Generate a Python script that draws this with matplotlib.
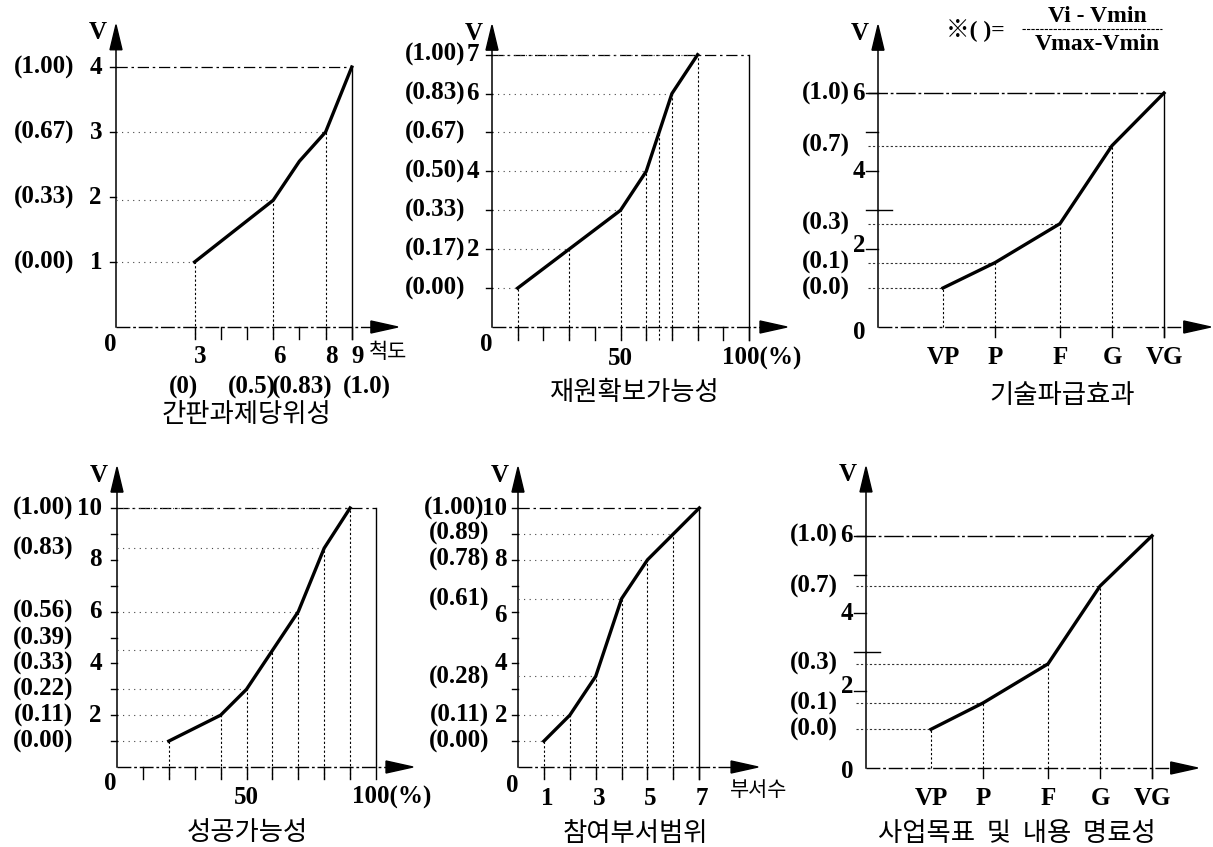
import matplotlib
matplotlib.use("Agg")
import matplotlib.pyplot as plt
from matplotlib.lines import Line2D

W, H = 1213, 847

# ---------------- data ----------------
# 간판과제당위성 (척도 3..9)
p1_x = [3, 6, 7, 8, 9]
p1_v = [1, 1.95, 2.55, 3, 4]
p1_vticks = [1, 2, 3, 4]
p1_vnorm = ["(0.00)", "(0.33)", "(0.67)", "(1.00)"]
p1_xticks = [3, 4, 5, 6, 7, 8, 9]
p1_xlab = [3, 6, 8, 9]
p1_xnorm = ["(0)", "(0.5)", "(0.83)", "(1.0)"]

# 재원확보가능성 (%)
p2_x = [10, 20, 30, 40, 50, 60, 65, 70, 80]
p2_v = [1, 1.5, 2, 2.5, 3, 4, 5, 6, 7]
p2_drops = [10, 30, 50, 60, 65, 70, 80]
p2_vticks = [2, 4, 6, 7]
p2_vnorm = ["(0.00)", "(0.17)", "(0.33)", "(0.50)", "(0.67)", "(0.83)", "(1.00)"]
p2_vnorm_at = [1, 2, 3, 4, 5, 6, 7]

# 기술파급효과
grades = ["VP", "P", "F", "G", "VG"]
p3_v = [1, 1.65, 2.65, 4.65, 6]
p3_vnorm = ["(0.0)", "(0.1)", "(0.3)", "(0.7)", "(1.0)"]
grade_vticks = [2, 4, 6]

# 성공가능성 (%)
p4_x = [20, 40, 50, 60, 70, 80, 90]
p4_v = [1, 2, 3, 4.5, 6, 8.45, 10]
p4_vticks = [2, 4, 6, 8, 10]
p4_vnorm = ["(0.00)", "(0.11)", "(0.22)", "(0.33)", "(0.39)", "(0.56)", "(0.83)", "(1.00)"]
p4_vnorm_at = [1, 2, 3, 4, 4.98, 6, 8.45, 10]

# 참여부서범위 (부서수)
p5_x = [1, 2, 3, 4, 5, 6, 7]
p5_v = [1, 2, 3.5, 6.5, 8, 9, 10]
p5_vticks = [2, 4, 6, 8, 10]
p5_xlab = [1, 3, 5, 7]
p5_vnorm = ["(0.00)", "(0.11)", "(0.28)", "(0.61)", "(0.78)", "(0.89)", "(1.00)"]
p5_vnorm_at = [1, 2, 3.45, 6.45, 8, 9, 10]

# 사업목표 및 내용 명료성
p6_v = [1, 1.68, 2.69, 4.7, 6]

# ---------------- styles ----------------
SERIF = dict(family=["Liberation Serif", "DejaVu Serif"], fontweight="bold", fontsize=18)
KOR = dict(family=["Noto Sans CJK KR", "DejaVu Sans"], fontsize=19)
DOTS = (0, (1, 4))
DENSE = (0, (2, 2))
DASHDOT = (0, (9, 3, 2, 3))
AXIS_LS = (0, (10, 2, 2, 2))

fig = plt.figure(figsize=(W / 100, H / 100), dpi=100)


def panel(ox, oy, sx, sy, xtip, ytip):
    # axes placed so that data units map to the pixel scale of the scan
    ax = fig.add_axes([ox / W, 1 - oy / H, xtip * sx / W, ytip * sy / H])
    ax.set_xlim(0, xtip)
    ax.set_ylim(0, ytip)
    ax.axis("off")
    ax.sx, ax.sy, ax.xtip, ax.ytip = sx, sy, xtip, ytip
    # axes with filled arrow heads
    ax.plot([0, 0], [0, ytip - 25 / sy], color="k", lw=1.1, clip_on=False)
    ax.fill([-6 / sx, 6 / sx, 0], [ytip - 25 / sy, ytip - 25 / sy, ytip], color="k", clip_on=False)
    ax.plot([0, xtip - 27 / sx], [0, 0], color="k", lw=1.0, ls=AXIS_LS, clip_on=False)
    ax.fill([xtip - 27 / sx, xtip - 27 / sx, xtip], [-6 / sy, 6 / sy, 0], color="k", clip_on=False)
    txt(ax, 0, ytip, "V", dx=-18, dy=8, **SERIF)
    return ax


def txt(ax, x, y, s, dx=0, dy=0, ha="center", va="center", **style):
    ax.annotate(s, (x, y), xytext=(dx * 0.72, -dy * 0.72), textcoords="offset points",
                ha=ha, va=va, annotation_clip=False, **style)


def line(ax, xs, ys, ls="-", lw=1.0, color="k"):
    ax.plot(xs, ys, ls=ls, lw=lw, color=color, clip_on=False)


def ftext(x, y, s, **style):
    fig.text(x / W, 1 - y / H, s, ha="center", va="center", **style)


def numeric_panel(ax, xs, vs, drops, top_x, xticks, yticks, tick_down=12):
    sx, sy = ax.sx, ax.sy
    vmap = dict(zip(xs, vs))
    top = vs[-1]
    line(ax, [0, top_x], [top, top], ls=DASHDOT, lw=0.9)
    line(ax, [top_x, top_x], [-tick_down / sy, top], lw=1.0)
    for x in drops:
        line(ax, [x, x], [-tick_down / sy, vmap[x]], ls=DENSE, lw=0.8)
        line(ax, [0, x], [vmap[x], vmap[x]], ls=DOTS, lw=0.8, color="#444444")
    for x in xticks:
        line(ax, [x, x], [-tick_down / sy, 0], lw=1.0)
    for y in yticks:
        line(ax, [-6 / sx, 0], [y, y], lw=1.0)
    ax.plot(xs, vs, color="k", lw=2.4, solid_joinstyle="round", clip_on=False)


def grade_panel(ax, gx, vs, norm):
    sx, sy = ax.sx, ax.sy
    line(ax, [-10 / sx, gx[-1]], [vs[-1], vs[-1]], ls=(0, (14, 2, 2, 2)), lw=1.0)
    line(ax, [gx[-1], gx[-1]], [-10 / sy, vs[-1]], lw=1.0)
    for x, v in zip(gx[:-1], vs[:-1]):
        line(ax, [x, x], [0, v], ls=DENSE, lw=0.8)
        line(ax, [-10 / sx, x], [v, v], ls=DENSE, lw=0.8, color="#333333")
    for x in gx[1:]:
        line(ax, [x, x], [-10 / sy, 0], lw=1.0)
    for y in [2, 3, 4, 5, 6]:
        line(ax, [-12 / sx, 0], [y, y], lw=1.0)
    line(ax, [0, 14 / sx], [3, 3], lw=1.0)
    ax.plot(gx, vs, color="k", lw=2.4, solid_joinstyle="round", clip_on=False)
    for y in grade_vticks:
        txt(ax, 0, y, str(y), dx=-13, dy=-4 if y == 2 else 0, ha="right", **SERIF)
    for s, v in zip(norm, vs):
        txt(ax, 0, v, s, dx=-28, ha="right", **SERIF)
    for g, x in zip(grades, gx):
        txt(ax, x, 0, g, dy=30, **SERIF)


grade_x = [1.25, 2.25, 3.5, 4.5, 5.5]

# ---- 간판과제당위성 ----
ax1 = panel(116, 327, 26.2, 65, 10.76, 4.65)
numeric_panel(ax1, p1_x, p1_v, p1_xlab[:-1], p1_x[-1], p1_xticks, p1_vticks)
for v in p1_vticks:
    txt(ax1, 0, v, str(v), dx=-14, ha="right", **SERIF)
for s, v in zip(p1_vnorm, p1_vticks):
    txt(ax1, 0, v, s, dx=-42, ha="right", **SERIF)
txt(ax1, 0, 0, "0", dx=-6, dy=17, **SERIF)
for x in p1_xlab:
    txt(ax1, x, 0, str(x), dx=6, dy=29, **SERIF)
txt(ax1, p1_xlab[-1], 0, "척도", dx=36, dy=25, family=KOR["family"], fontsize=15)
for s, x in zip(p1_xnorm, [2.56, 5.19, 7.1, 9.58]):
    txt(ax1, x, 0, s, dy=60, **SERIF)
ftext(246, 414, "간판과제당위성", **KOR)

# ---- 재원확보가능성 ----
ax2 = panel(492, 327, 2.57, 38.9, 114.8, 7.76)
numeric_panel(ax2, p2_x, p2_v, p2_drops, 100, list(range(10, 101, 10)), p2_vnorm_at, tick_down=13)
for v in p2_vticks:
    txt(ax2, 0, v, str(v), dx=-13, ha="right", **SERIF)
for s, v in zip(p2_vnorm, p2_vnorm_at):
    txt(ax2, 0, v, s, dx=-27, ha="right", **SERIF)
txt(ax2, 0, 0, "0", dx=-6, dy=17, **SERIF)
txt(ax2, 50, 0, "50", dy=31, **SERIF)
txt(ax2, 100, 0, "100(%)", dx=13, dy=31, **SERIF)
ftext(635, 392, "재원확보가능성", **KOR)

# ---- 기술파급효과 ----
ax3 = panel(878, 327, 52, 39, 6.4, 7.74)
grade_panel(ax3, grade_x, p3_v, p3_vnorm)
txt(ax3, 0, 0, "0", dx=-19, dy=5, **SERIF)
ftext(1062, 395, "기술파급효과", **KOR)

# formula note
ftext(975, 30, "※( )=", family=["Liberation Serif", "Noto Sans CJK KR"], fontweight="bold", fontsize=17)
ftext(1097, 17, "Vi - Vmin", family=SERIF["family"], fontweight="bold", fontsize=17)
ftext(1097, 45, "Vmax-Vmin", family=SERIF["family"], fontweight="bold", fontsize=17)
fig.add_artist(Line2D([1022 / W, 1162 / W], [1 - 29 / H, 1 - 29 / H], transform=fig.transFigure,
                      color="k", lw=0.8, ls=(0, (3, 1))))

# ---- 성공가능성 ----
ax4 = panel(117, 767, 2.59, 25.9, 114.3, 11.58)
numeric_panel(ax4, p4_x, p4_v, p4_x, 100, list(range(10, 100, 10)), list(range(1, 11)))
for v in p4_vticks:
    txt(ax4, 0, v, str(v), dx=-15, ha="right", **SERIF)
for s, v in zip(p4_vnorm, p4_vnorm_at):
    txt(ax4, 0, v, s, dx=-44, ha="right", **SERIF)
txt(ax4, 0, 0, "0", dx=-7, dy=16, **SERIF)
txt(ax4, 50, 0, "50", dy=30, **SERIF)
txt(ax4, 90.7, 0, "100(%)", dy=30, ha="left", **SERIF)
ftext(247, 832, "성공가능성", **KOR)

# ---- 참여부서범위 ----
ax5 = panel(518, 767, 25.9, 25.9, 9.27, 11.58)
numeric_panel(ax5, p5_x, p5_v, p5_x[:-1], p5_x[-1], p5_x, list(range(1, 11)))
for v in p5_vticks:
    txt(ax5, 0, v, str(v), dx=-11, dy=4 if v == 6 else 0, ha="right", **SERIF)
for s, v in zip(p5_vnorm, p5_vnorm_at):
    txt(ax5, 0, v, s, dx=-34 if v == 10 else -29, ha="right", **SERIF)
txt(ax5, 0, 0, "0", dx=-6, dy=18, **SERIF)
for x in p5_xlab:
    txt(ax5, x, 0, str(x), dx=3, dy=31, **SERIF)
txt(ax5, p5_xlab[-1], 0, "부서수", dx=59, dy=23, family=KOR["family"], fontsize=15)
ftext(635, 833, "참여부서범위", **KOR)

# ---- 사업목표 및 내용 명료성 ----
ax6 = panel(866, 768, 52, 38.7, 6.38, 7.78)
grade_panel(ax6, grade_x, p6_v, p3_vnorm)
txt(ax6, 0, 0, "0", dx=-19, dy=3, **SERIF)
ftext(1017, 833, "사업목표  및  내용  명료성", **KOR)

fig.savefig("out.png", dpi=100)
